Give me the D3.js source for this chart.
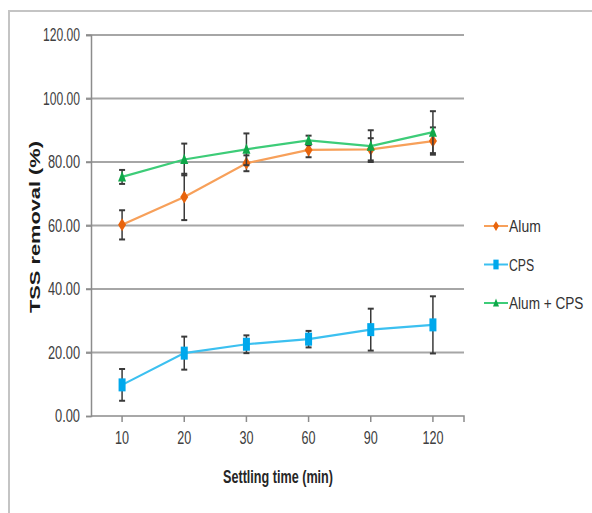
<!DOCTYPE html>
<html>
<head>
<meta charset="utf-8">
<script src="https://cdn.jsdelivr.net/npm/d3@7"></script>
<style>
  body { margin: 0; background: #fff; }
  svg text { font-family: "Liberation Sans", Arial, sans-serif; }
</style>
</head>
<body>
<svg id="chart" width="592" height="513"></svg>
<script>
// settling times (x categories)
const categories = ['10', '20', '30', '60', '90', '120'];
const yTicks = [0, 20, 40, 60, 80, 100, 120];

// TSS removal (%) per series, with error bar half-widths
const alum = [60.2, 69.0, 79.6, 83.8, 84.0, 86.6];
const alumErr = [4.6, 7.3, 2.5, 2.3, 3.5, 4.3];
const cps = [9.8, 19.8, 22.6, 24.2, 27.2, 28.7];
const cpsErr = [5.0, 5.2, 2.8, 2.6, 6.6, 9.0];
const combo = [75.3, 80.8, 84.0, 86.8, 85.0, 89.4];
const comboErr = [2.2, 5.0, 5.0, 1.5, 5.0, 6.6];

const series = [
  { name: 'Alum', values: alum, err: alumErr, line: '#f7a05a', fill: '#e8640c', shape: 'diamond' },
  { name: 'CPS', values: cps, err: cpsErr, line: '#3cc0f0', fill: '#00a8ec', shape: 'square' },
  { name: 'Alum + CPS', values: combo, err: comboErr, line: '#3dcc78', fill: '#10a84a', shape: 'triangle' }
];

const svg = d3.select('#chart');

// outer frame (left and top edges visible)
svg.append('path')
  .attr('d', 'M9,513 L9,11 L592,11')
  .attr('fill', 'none')
  .attr('stroke', '#c4c4c4')
  .attr('stroke-width', 2);

const x = d3.scaleBand().domain(categories).range([91, 464]).padding(0);
const y = d3.scaleLinear().domain([0, 120]).range([416, 35]);
const cx = d => x(d) + x.bandwidth() / 2;

// gridlines
svg.append('g')
  .selectAll('line')
  .data(yTicks.filter(t => t > 0))
  .join('line')
  .attr('x1', 86).attr('x2', 464)
  .attr('y1', d => y(d)).attr('y2', d => y(d))
  .attr('stroke', '#a6a6a6')
  .attr('stroke-width', 2);

// y axis
const yAxis = svg.append('g')
  .attr('transform', 'translate(91,0)')
  .call(d3.axisLeft(y).tickValues(yTicks).tickSize(5).tickFormat(d3.format('.2f')));
yAxis.selectAll('.domain, .tick line').attr('stroke', '#8c8c8c').attr('stroke-width', 1.5);
yAxis.selectAll('text')
  .attr('x', -11)
  .attr('fill', '#404040')
  .style('font-size', '18px')
  .attr('textLength', 37)
  .attr('lengthAdjust', 'spacingAndGlyphs');
yAxis.selectAll('.tick').filter(d => d < 100)
  .select('text').attr('textLength', 32);
yAxis.selectAll('.tick').filter(d => d === 0)
  .select('text').attr('textLength', 25);

// x axis
const xAxis = svg.append('g')
  .attr('transform', 'translate(0,416)')
  .call(d3.axisBottom(x).tickSize(6).tickPadding(9));
xAxis.selectAll('.domain, .tick line').attr('stroke', '#8c8c8c').attr('stroke-width', 1.5);
xAxis.select('.domain').attr('d', 'M91,0 H464 V6');
xAxis.selectAll('text')
  .attr('fill', '#404040')
  .style('font-size', '18px')
  .attr('textLength', d => d.length === 3 ? 21 : 14)
  .attr('lengthAdjust', 'spacingAndGlyphs');

// axis titles
svg.append('text')
  .attr('x', 278).attr('y', 483)
  .attr('text-anchor', 'middle')
  .attr('fill', '#262626')
  .style('font-size', '18px')
  .style('font-weight', 'bold')
  .attr('textLength', 110)
  .attr('lengthAdjust', 'spacingAndGlyphs')
  .text('Settling time (min)');

svg.append('text')
  .attr('transform', 'translate(40,227) rotate(-90)')
  .attr('text-anchor', 'middle')
  .attr('fill', '#1a1a1a')
  .style('font-size', '14px')
  .style('font-weight', 'bold')
  .attr('textLength', 172)
  .attr('lengthAdjust', 'spacingAndGlyphs')
  .text('TSS removal (%)');

function marker(g, shape, color, sx) {
  if (shape === 'diamond') {
    g.append('path').attr('d', `M0,-${6.5 * sx} L${4 * sx},0 L0,${6.5 * sx} L-${4 * sx},0 Z`).attr('fill', color);
  } else if (shape === 'square') {
    g.append('rect').attr('x', -3.5 * sx).attr('y', -6.5 * sx).attr('width', 7 * sx).attr('height', 13 * sx).attr('fill', color);
  } else {
    g.append('path').attr('d', `M0,-${6 * sx} L${4 * sx},${4.5 * sx} L-${4 * sx},${4.5 * sx} Z`).attr('fill', color);
  }
}

const line = d3.line().x(d => cx(d.cat)).y(d => y(d.v));

series.forEach(s => {
  const pts = categories.map((c, i) => ({ cat: c, v: s.values[i], e: s.err[i] }));
  const g = svg.append('g');

  g.append('path')
    .datum(pts)
    .attr('d', line)
    .attr('fill', 'none')
    .attr('stroke', s.line)
    .attr('stroke-width', 2.2);

  // error bars
  const eb = g.selectAll('.eb').data(pts).join('g').attr('class', 'eb');
  eb.append('line')
    .attr('x1', d => cx(d.cat)).attr('x2', d => cx(d.cat))
    .attr('y1', d => y(d.v - d.e)).attr('y2', d => y(d.v + d.e))
    .attr('stroke', '#3a3a3a').attr('stroke-width', 1.5);
  [-1, 1].forEach(sign => {
    eb.append('line')
      .attr('x1', d => cx(d.cat) - 3).attr('x2', d => cx(d.cat) + 3)
      .attr('y1', d => y(d.v + sign * d.e)).attr('y2', d => y(d.v + sign * d.e))
      .attr('stroke', '#3a3a3a').attr('stroke-width', 2);
  });

  g.selectAll('.pt').data(pts).join('g')
    .attr('class', 'pt')
    .attr('transform', d => `translate(${cx(d.cat)},${y(d.v)})`)
    .each(function () { marker(d3.select(this), s.shape, s.fill, 1); });
});

// legend
const legend = svg.append('g');
series.forEach((s, i) => {
  const ly = 226 + i * 38.5;
  const item = legend.append('g').attr('transform', `translate(0,${ly})`);
  item.append('line')
    .attr('x1', 484).attr('x2', 508)
    .attr('stroke', s.line).attr('stroke-width', 2);
  const m = item.append('g').attr('transform', 'translate(496,0)');
  marker(m, s.shape, s.fill, 0.75);
  item.append('text')
    .attr('transform', `translate(509,6) scale(${[0.82, 0.72, 0.8][i]},1)`)
    .attr('fill', '#333')
    .style('font-size', '17px')
    .text(s.name);
});
</script>
</body>
</html>
